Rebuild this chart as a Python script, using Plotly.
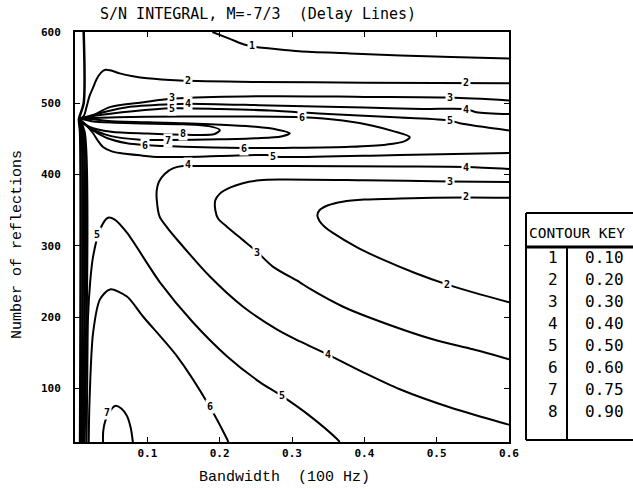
import plotly.graph_objects as go

# ---------------- data ----------------
key_ids = [1, 2, 3, 4, 5, 6, 7, 8]
key_levels = ["0.10", "0.20", "0.30", "0.40", "0.50", "0.60", "0.75", "0.90"]

x_ticks = [0.1, 0.2, 0.3, 0.4, 0.5, 0.6]
x_ticktext = ["0.1", "0.2", "0.3", "0.4", "0.5", "0.6"]
y_ticks = [100, 200, 300, 400, 500, 600]

# contour 1 (0.10)
c1_top_x = [0.19, 0.215, 0.235, 0.25, 0.27, 0.31, 0.38, 0.45, 0.52, 0.60]
c1_top_y = [600, 590, 582, 579, 577, 573, 570, 567, 565, 563]
c1_left_x = [0.012, 0.012, 0.0055, 0.007, 0.007]
c1_left_y = [600, 500, 478, 460, 25]
# contour 2 (0.20)
c2_up_x = [0.0055, 0.012, 0.016, 0.020, 0.025, 0.030, 0.036, 0.042, 0.05, 0.062, 0.08, 0.10, 0.145, 0.25, 0.40, 0.60]
c2_up_y = [478, 482, 495, 510, 522, 534, 543, 547, 546, 542, 538, 535, 532, 530, 529, 528]
c2_low_x = [0.6, 0.54, 0.45, 0.40, 0.37, 0.35, 0.338, 0.335, 0.338, 0.345, 0.356, 0.39, 0.425, 0.47, 0.514, 0.56, 0.6]
c2_low_y = [367.5, 368, 366.5, 365, 362, 357, 350, 343, 335, 327, 318.6, 298, 281, 262, 246, 232, 221]
c2_left_x = [0.0055, 0.009, 0.009]
c2_left_y = [478, 460, 25]
# contour 3 (0.30)
c3_up_x = [0.0055, 0.021, 0.048, 0.094, 0.12, 0.145, 0.27, 0.40, 0.518, 0.6]
c3_up_y = [478, 481, 494.6, 501.5, 505, 507, 510, 509, 508, 504]
c3_low_x = [0.6, 0.518, 0.40, 0.283, 0.2555, 0.232, 0.215, 0.2, 0.194, 0.194, 0.198, 0.21, 0.23, 0.2514, 0.2735, 0.3108, 0.3246, 0.37, 0.4033, 0.4945, 0.55, 0.6]
c3_low_y = [389.8, 390.5, 392, 393, 392, 388, 382, 373, 364, 350, 338, 327, 310, 292, 271, 249, 240, 215, 201, 169, 155, 141]
c3_left_x = [0.0055, 0.011, 0.011]
c3_left_y = [478, 460, 25]
# contour 4 (0.40)
c4_up_x = [0.0055, 0.0235, 0.072, 0.131, 0.156, 0.27, 0.40, 0.48, 0.541, 0.555, 0.6]
c4_up_y = [478, 483.4, 494.6, 498.7, 499.5, 497, 494, 492, 491.8, 487.6, 485]
c4_low_x = [0.6, 0.541, 0.45, 0.30, 0.1685, 0.149, 0.136, 0.124, 0.116, 0.113, 0.113, 0.117, 0.128, 0.141, 0.1865, 0.232, 0.279, 0.311, 0.349, 0.40, 0.449, 0.52, 0.597, 0.6]
c4_low_y = [408, 410.8, 411.5, 412, 412, 412, 409, 401, 390, 378, 365, 341, 325, 309, 257, 215, 183, 166, 148, 122, 99, 73, 50, 49]
c4_left_x = [0.0055, 0.013, 0.013]
c4_left_y = [478, 460, 25]
# contour 5 (0.50)
c5_up_x = [0.0055, 0.03, 0.08, 0.134, 0.20, 0.269, 0.35, 0.45, 0.518, 0.532, 0.6]
c5_up_y = [478, 483, 489, 493, 492, 490, 485, 480, 476, 472, 462]
c5_low_x = [0.0055, 0.015, 0.025, 0.032, 0.0387, 0.05, 0.062, 0.09, 0.1174, 0.2, 0.2652, 0.2735, 0.283, 0.449, 0.6]
c5_low_y = [478, 470, 458, 447, 438.7, 433, 430.3, 427, 424.7, 426, 427.5, 426, 424.7, 427.5, 430.3]
c5_bot_x = [0.016, 0.017, 0.018, 0.021, 0.025, 0.0345, 0.0456, 0.055, 0.0718, 0.1174, 0.163, 0.21, 0.2555, 0.2859, 0.3246, 0.3619, 0.366]
c5_bot_y = [25, 120, 200, 250, 285, 323, 339.5, 337, 318.6, 249, 193, 145.4, 109, 89.6, 61.6, 29.5, 25]
# contour 6 (0.60)
c6_loop_x = [0.0055, 0.03, 0.1, 0.2, 0.3135, 0.37, 0.41, 0.44, 0.4627, 0.455, 0.43, 0.38, 0.30, 0.269, 0.2334, 0.15, 0.0967, 0.072, 0.045, 0.025, 0.012, 0.0055]
c6_loop_y = [478, 479.5, 481, 481.5, 480.6, 476, 469, 461, 452.7, 446.5, 442, 439, 437.5, 437.3, 437.3, 439, 441.5, 444, 451, 462, 472, 478]
c6_bot_x = [0.019, 0.02, 0.025, 0.0345, 0.0483, 0.0718, 0.094, 0.1409, 0.1865, 0.21, 0.212]
c6_bot_y = [25, 80, 178, 225, 239, 229, 201, 145.4, 74.2, 29.5, 25]
# contour 7 (0.75)
c7_loop_x = [0.0055, 0.05, 0.15, 0.25, 0.28, 0.297, 0.285, 0.25, 0.20, 0.1285, 0.09, 0.05, 0.02, 0.0055]
c7_loop_y = [478, 475, 472, 467, 463, 458, 453.5, 451, 449.5, 448.5, 449, 454, 466, 478]
c7_bot_x = [0.0387, 0.039, 0.042, 0.0483, 0.0552, 0.064, 0.0718, 0.077, 0.08]
c7_bot_y = [25, 40, 55, 68, 75.6, 72, 61.6, 45, 25]
# contour 8 (0.90)
c8_loop_x = [0.0055, 0.03, 0.08, 0.15, 0.185, 0.2003, 0.193, 0.17, 0.149, 0.10, 0.05, 0.02, 0.0055]
c8_loop_y = [478, 474, 472, 470.5, 468, 462.4, 457, 455.5, 456, 457.5, 460, 467, 478]

# in-line contour labels
label_ids = ["1", "2", "2", "3", "3", "4", "4", "5", "5", "6", "8", "7", "6", "6", "5",
             "4", "4", "3", "2", "2", "3", "4", "5", "5", "6", "7"]
label_x = [0.2445, 0.156, 0.541, 0.134, 0.518, 0.156, 0.541, 0.134, 0.518, 0.3135, 0.149, 0.1285, 0.0967, 0.2334, 0.2735,
           0.156, 0.541, 0.518, 0.54, 0.5138, 0.2514, 0.3494, 0.0304, 0.2859, 0.1865, 0.0442]
label_y = [581, 532, 529.5, 508.5, 508.5, 500, 492, 493, 476.4, 480.6, 457, 448.5, 441.5, 437.3, 426,
           413.5, 409.4, 389.8, 368.9, 246, 291, 148, 316, 89.6, 74.2, 67]

paths = [
    (c1_top_x, c1_top_y, 2), (c1_left_x, c1_left_y, 2.5),
    (c2_up_x, c2_up_y, 2), (c2_low_x, c2_low_y, 2), (c2_left_x, c2_left_y, 2.5),
    (c3_up_x, c3_up_y, 2), (c3_low_x, c3_low_y, 2), (c3_left_x, c3_left_y, 2.5),
    (c4_up_x, c4_up_y, 2), (c4_low_x, c4_low_y, 2), (c4_left_x, c4_left_y, 2.5),
    (c5_up_x, c5_up_y, 2), (c5_low_x, c5_low_y, 2), (c5_bot_x, c5_bot_y, 2),
    (c6_loop_x, c6_loop_y, 2), (c6_bot_x, c6_bot_y, 2),
    (c7_loop_x, c7_loop_y, 2), (c7_bot_x, c7_bot_y, 2),
    (c8_loop_x, c8_loop_y, 2),
]

fig = go.Figure()
for px_, py_, w in paths:
    fig.add_trace(go.Scatter(x=px_, y=py_, mode="lines",
                             line=dict(color="black", width=w, shape="spline", smoothing=0.8),
                             hoverinfo="skip", showlegend=False))

for t, lx, ly in zip(label_ids, label_x, label_y):
    fig.add_annotation(x=lx, y=ly, xref="x", yref="y", text="<b>" + t + "</b>", showarrow=False,
                       font=dict(family="DejaVu Sans Mono", size=10, color="black"),
                       bgcolor="white", borderpad=1, xanchor="center", yanchor="middle")

mono = "DejaVu Sans Mono"
fig.update_layout(
    width=633, height=489,
    margin=dict(l=75, r=124, t=32, b=47),
    paper_bgcolor="white", plot_bgcolor="white",
    showlegend=False,
    xaxis=dict(range=[0, 0.6], tickvals=x_ticks, ticktext=x_ticktext,
               showline=True, linecolor="black", linewidth=2, mirror="ticks",
               ticks="inside", ticklen=5, tickwidth=1, tickcolor="black",
               showgrid=False, zeroline=False,
               tickfont=dict(family=mono, size=11, color="black", weight="bold")),
    yaxis=dict(range=[25, 600], tickvals=y_ticks,
               showline=True, linecolor="black", linewidth=2, mirror="ticks",
               ticks="inside", ticklen=5, tickwidth=1, tickcolor="black",
               showgrid=False, zeroline=False, ticklabelstandoff=10,
               tickfont=dict(family=mono, size=11, color="black", weight="bold")),
)

# title and axis titles
fig.add_annotation(x=0.4217, y=1.0439, xref="paper", yref="paper", showarrow=False,
                   text="S/N INTEGRAL, M=-7/3  (Delay Lines)",
                   font=dict(family=mono, size=15, color="black"), xanchor="center", yanchor="middle")
fig.add_annotation(x=0.4816, y=-0.0878, xref="paper", yref="paper", showarrow=False,
                   text="Bandwidth  (100 Hz)",
                   font=dict(family="Liberation Mono", size=15, color="black"), xanchor="center", yanchor="middle")
fig.add_annotation(x=-0.1313, y=0.4805, xref="paper", yref="paper", showarrow=False,
                   text="Number of reflections", textangle=-90,
                   font=dict(family="Liberation Mono", size=15, color="black"), xanchor="center", yanchor="middle")

# contour key table
kl, kr, kt, kb, kh, kd = 1.0392, 1.40, 0.5585, 0.0049, 0.4756, 1.1336
fig.add_shape(type="line", xref="paper", yref="paper", x0=kl, x1=kr, y0=kt, y1=kt, line=dict(color="black", width=2))
fig.add_shape(type="line", xref="paper", yref="paper", x0=kl, x1=kr, y0=kb, y1=kb, line=dict(color="black", width=2))
fig.add_shape(type="line", xref="paper", yref="paper", x0=kl, x1=kl, y0=kb, y1=kt, line=dict(color="black", width=2))
fig.add_shape(type="line", xref="paper", yref="paper", x0=kl, x1=kr, y0=kh, y1=kh, line=dict(color="black", width=3))
fig.add_shape(type="line", xref="paper", yref="paper", x0=kd, x1=kd, y0=kb, y1=kh, line=dict(color="black", width=2))
fig.add_annotation(x=1.0415, y=0.5098, xref="paper", yref="paper", showarrow=False, text="CONTOUR KEY",
                   font=dict(family=mono, size=14.5, color="black"), xanchor="left", yanchor="middle")
for i, (kid, lev) in enumerate(zip(key_ids, key_levels)):
    py = 257 + 22 * i
    yp = (442 - py) / 410
    fig.add_annotation(x=1.1014, y=yp, xref="paper", yref="paper", showarrow=False, text=str(kid),
                       font=dict(family=mono, size=16, color="black"), xanchor="center", yanchor="middle")
    fig.add_annotation(x=1.2189, y=yp, xref="paper", yref="paper", showarrow=False, text=lev,
                       font=dict(family=mono, size=16, color="black"), xanchor="center", yanchor="middle")

fig.write_html("out.html")
